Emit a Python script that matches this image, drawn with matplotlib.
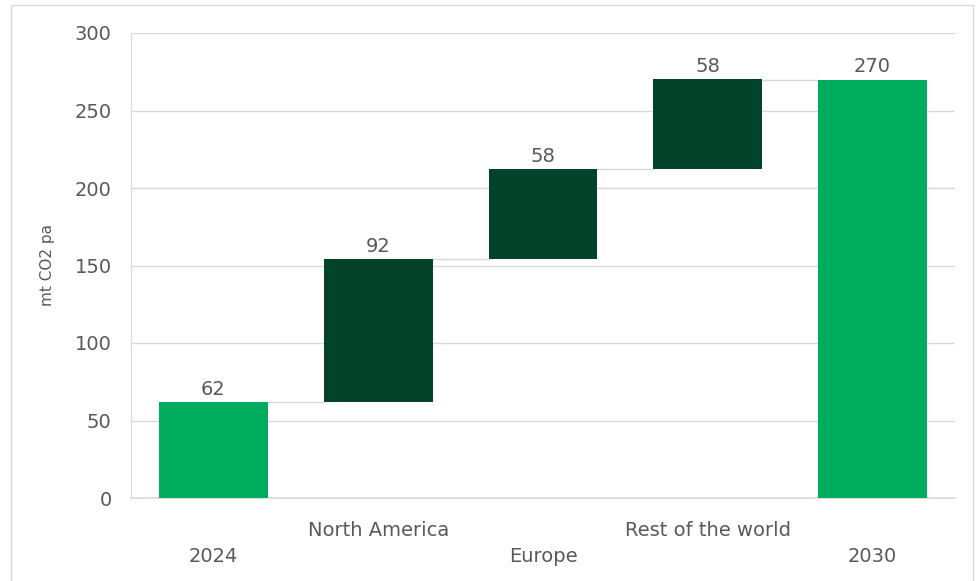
import matplotlib.pyplot as plt
import matplotlib.transforms as mtransforms
from matplotlib.patches import Rectangle

# %% Datos

categorias = ["2024", "North America", "Europe", "Rest of the world", "2030"]
valores = [62, 92, 58, 58, 270]
es_total = [True, False, False, False, True]

verde_claro = "#00AC5E"
verde_oscuro = "#02432A"
gris_texto = "#595959"
gris_linea = "#D9D9D9"

# %% Grafico

fig = plt.figure(figsize=(9.8, 5.81), dpi=100)
ax = fig.add_axes([131 / 980, 1 - 498 / 581, (955 - 131) / 980, (498 - 33) / 581])

# bases del waterfall
bases = []
acumulado = 0
for v, total in zip(valores, es_total):
    if total:
        bases.append(0)
        acumulado = v
    else:
        bases.append(acumulado)
        acumulado += v

x = list(range(len(categorias)))
ancho = 0.66
colores = [verde_claro if t else verde_oscuro for t in es_total]
ax.bar(x, valores, ancho, bottom=bases, color=colores, zorder=3)

# lineas conectoras
for i in range(len(x) - 1):
    tope = bases[i] + valores[i]
    ax.plot([x[i] + ancho / 2, x[i + 1] - ancho / 2], [tope, tope], color=gris_linea, lw=1, zorder=2)

# etiquetas de valores
for i in x:
    ax.text(x[i], bases[i] + valores[i] + 2, str(valores[i]), ha="center", va="bottom",
            fontsize=14, color=gris_texto)

ax.set_xlim(-0.5, len(x) - 0.5)
ax.set_ylim(0, 300)
ax.set_yticks(range(0, 301, 50))
ax.tick_params(axis="y", length=0, labelsize=14, labelcolor=gris_texto, pad=14)
ax.set_xticks([])
ax.grid(axis="y", color=gris_linea, lw=1, zorder=0)
ax.axhline(0, color=gris_linea, lw=1.2, zorder=1, clip_on=False)
for lado in ["top", "right", "bottom"]:
    ax.spines[lado].set_visible(False)
ax.spines["left"].set_color(gris_linea)
ax.set_ylabel("mt CO2 pa", fontsize=11, color=gris_texto, labelpad=14)

# etiquetas de categorias alternadas
trans = mtransforms.blended_transform_factory(ax.transData, fig.transFigure)
for i, cat in enumerate(categorias):
    y_fig = 1 - 530 / 581 if i % 2 == 1 else 1 - 556 / 581
    ax.text(x[i], y_fig, cat, transform=trans, ha="center", va="center",
            fontsize=14, color=gris_texto)

# marco del grafico
fig.patches.append(Rectangle((11 / 980, -0.01), (973 - 11) / 980, 1 - 5 / 581 + 0.01,
                             transform=fig.transFigure, fill=False, edgecolor=gris_linea, lw=1))

plt.savefig("out.png", dpi=100)
